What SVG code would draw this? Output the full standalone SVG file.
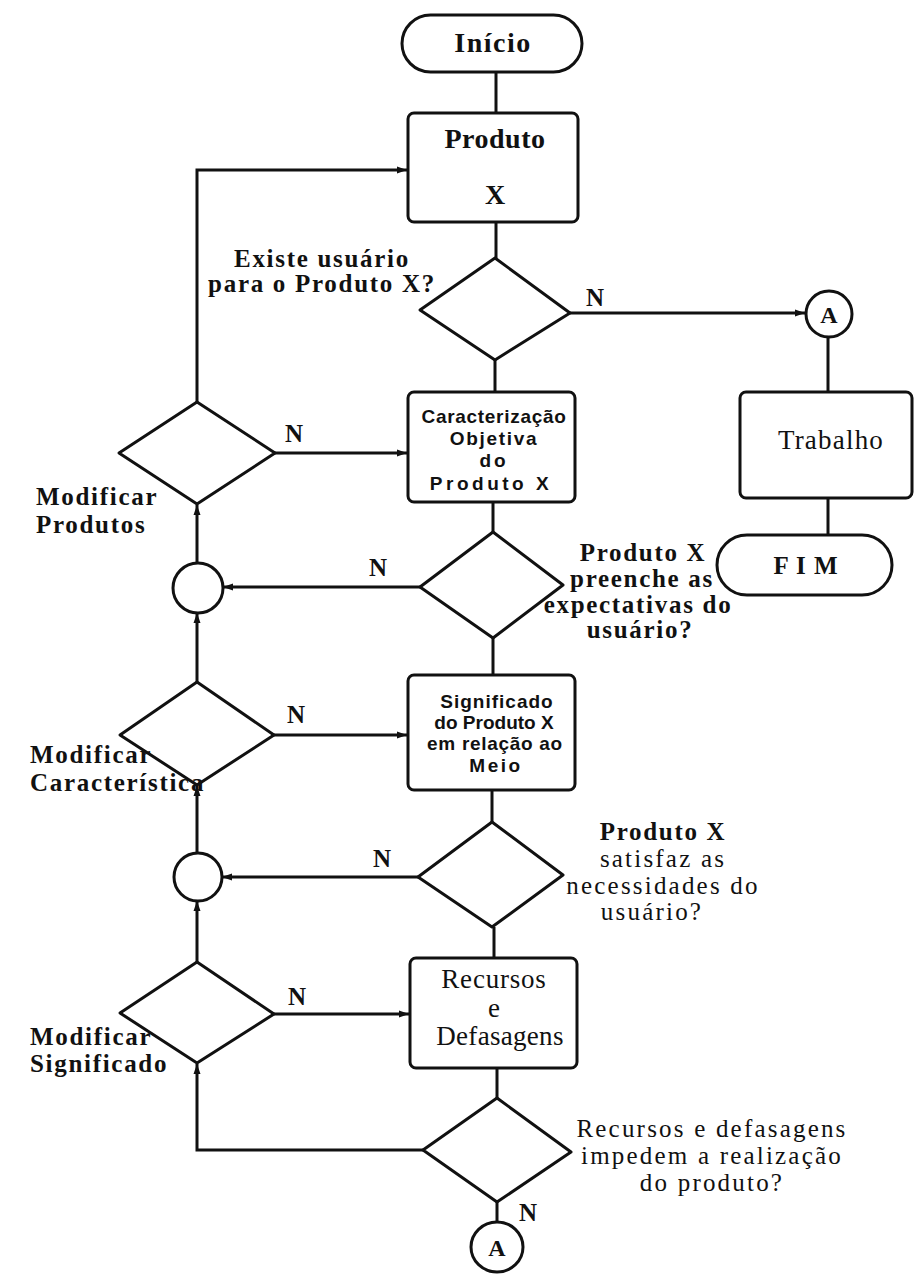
<svg xmlns="http://www.w3.org/2000/svg" width="919" height="1276" viewBox="0 0 919 1276">
  <style>
    .shape { fill: #ffffff; stroke: #111111; stroke-width: 3; stroke-linejoin: round; }
    .link { fill: none; stroke: #111111; stroke-width: 3; }
    .serif { font-family: "Liberation Serif", "Times New Roman", serif; fill: #111111; }
    .b { font-weight: bold; }
    .lbl { font-size: 25px; letter-spacing: 1.7px; }
    .reg { font-size: 25px; letter-spacing: 2.2px; }
    .sans { font-family: "Liberation Sans", Arial, sans-serif; font-weight: bold; font-size: 19px; fill: #111111; }
    .mid { text-anchor: middle; }
  </style>
  <defs>
    <marker id="arrow" markerUnits="userSpaceOnUse" markerWidth="12" markerHeight="10" refX="10" refY="4" orient="auto">
      <path d="M0,0.5 L10,4 L0,7.5 z" fill="#111111"/>
    </marker>
  </defs>

  <!-- connectors -->
  <g id="connectors">
    <path class="link" d="M496,72 V113"/>
    <path class="link" d="M496,222 V258"/>
    <path class="link" d="M495,360 V392"/>
    <path class="link" d="M570,313 H805" marker-end="url(#arrow)"/>
    <path class="link" d="M828,337 V392"/>
    <path class="link" d="M828,498 V535"/>
    <path class="link" d="M493,502 V532"/>
    <path class="link" d="M420,587 H223" marker-end="url(#arrow)"/>
    <path class="link" d="M493,638 V675"/>
    <path class="link" d="M492,790 V822"/>
    <path class="link" d="M418,877 H222" marker-end="url(#arrow)"/>
    <path class="link" d="M494,927 V958"/>
    <path class="link" d="M497,1068 V1098"/>
    <path class="link" d="M423,1150 H197 V1064" marker-end="url(#arrow)"/>
    <path class="link" d="M497,1202 V1222"/>
    <path class="link" d="M197,962 V901" marker-end="url(#arrow)"/>
    <path class="link" d="M197,853 V786" marker-end="url(#arrow)"/>
    <path class="link" d="M197,682 V613" marker-end="url(#arrow)"/>
    <path class="link" d="M197,563 V505" marker-end="url(#arrow)"/>
    <path class="link" d="M197,402 V170 H407" marker-end="url(#arrow)"/>
    <path class="link" d="M275,453 H407" marker-end="url(#arrow)"/>
    <path class="link" d="M274,735 H407" marker-end="url(#arrow)"/>
    <path class="link" d="M274,1014 H409" marker-end="url(#arrow)"/>
  </g>

  <!-- start / end -->
  <g id="inicio">
    <rect class="shape" x="402" y="15" width="180" height="57" rx="28.5"/>
    <text class="serif b mid" x="493" y="52" font-size="28" letter-spacing="1.5">Início</text>
  </g>
  <g id="fim">
    <rect class="shape" x="717" y="535" width="175" height="60" rx="30"/>
    <text class="serif b mid" x="806" y="574" font-size="25" letter-spacing="1">F I M</text>
  </g>

  <!-- process boxes -->
  <g id="produto">
    <rect class="shape" x="408" y="113" width="170" height="109" rx="6"/>
    <text class="serif b mid" x="495" y="148" font-size="28" letter-spacing="0.5">Produto</text>
    <text class="serif b mid" x="495" y="204" font-size="28">X</text>
  </g>
  <g id="trabalho">
    <rect class="shape" x="740" y="392" width="172" height="106" rx="6"/>
    <text class="serif mid" x="831" y="449" font-size="27" letter-spacing="1.2">Trabalho</text>
  </g>
  <g id="caracterizacao">
    <rect class="shape" x="408" y="392" width="167" height="110" rx="6"/>
    <text class="sans mid" x="494" y="423" letter-spacing="0.7">Caracterização</text>
    <text class="sans mid" x="494" y="445" letter-spacing="1.7">Objetiva</text>
    <text class="sans mid" x="494" y="467" letter-spacing="3">do</text>
    <text class="sans mid" x="491" y="490" letter-spacing="3.5">Produto X</text>
  </g>
  <g id="significado">
    <rect class="shape" x="408" y="675" width="167" height="115" rx="6"/>
    <text class="sans mid" x="497" y="708" letter-spacing="1">Significado</text>
    <text class="sans mid" x="494" y="729">do Produto X</text>
    <text class="sans mid" x="495" y="750" letter-spacing="0.7">em relação ao</text>
    <text class="sans mid" x="496" y="772" letter-spacing="2.5">Meio</text>
  </g>
  <g id="recursos">
    <rect class="shape" x="410" y="958" width="167" height="110" rx="6"/>
    <text class="serif mid" x="494" y="988" font-size="27" letter-spacing="0.8">Recursos</text>
    <text class="serif mid" x="494" y="1017" font-size="27">e</text>
    <text class="serif mid" x="500" y="1045" font-size="27" letter-spacing="0.3">Defasagens</text>
  </g>

  <!-- decisions -->
  <g id="decisao-usuario">
    <polygon class="shape" points="495,258 570,313 495,360 420,310"/>
    <text class="serif b lbl mid" x="322" y="267">Existe usuário</text>
    <text class="serif b lbl mid" x="322" y="292">para o Produto X?</text>
    <text class="serif b mid" x="595" y="306" font-size="25">N</text>
  </g>
  <g id="decisao-expectativas">
    <polygon class="shape" points="493,532 563,585 493,638 420,587"/>
    <text class="serif b lbl mid" x="643" y="561" letter-spacing="2.3">Produto X</text>
    <text class="serif b lbl mid" x="642" y="587">preenche as</text>
    <text class="serif b lbl mid" x="638" y="613">expectativas do</text>
    <text class="serif b lbl mid" x="640" y="638">usuário?</text>
    <text class="serif b mid" x="378" y="576" font-size="25">N</text>
  </g>
  <g id="decisao-necessidades">
    <polygon class="shape" points="492,822 563,875 492,927 418,877"/>
    <text class="serif b lbl mid" x="663" y="840" letter-spacing="2.3">Produto X</text>
    <text class="serif reg mid" x="663" y="867">satisfaz as</text>
    <text class="serif reg mid" x="663" y="894">necessidades do</text>
    <text class="serif reg mid" x="652" y="920">usuário?</text>
    <text class="serif b mid" x="382" y="867" font-size="25">N</text>
  </g>
  <g id="decisao-recursos">
    <polygon class="shape" points="497,1098 571,1152 497,1202 423,1150"/>
    <text class="serif reg mid" x="712" y="1137">Recursos e defasagens</text>
    <text class="serif reg mid" x="712" y="1164">impedem a realização</text>
    <text class="serif reg mid" x="712" y="1191">do produto?</text>
    <text class="serif b mid" x="528" y="1221" font-size="25">N</text>
  </g>
  <g id="modificar-produtos">
    <polygon class="shape" points="197,402 275,453 197,504 119,453"/>
    <text class="serif b lbl" x="36" y="505" letter-spacing="1">Modificar</text>
    <text class="serif b lbl" x="36" y="533" letter-spacing="1.5">Produtos</text>
    <text class="serif b mid" x="294" y="442" font-size="25">N</text>
  </g>
  <g id="modificar-caracteristica">
    <polygon class="shape" points="197,682 274,735 197,785 120,735"/>
    <text class="serif b lbl" x="30" y="763" letter-spacing="1">Modificar</text>
    <text class="serif b lbl" x="30" y="791" letter-spacing="0.8">Característica</text>
    <text class="serif b mid" x="296" y="723" font-size="25">N</text>
  </g>
  <g id="modificar-significado">
    <polygon class="shape" points="197,962 274,1014 197,1063 120,1013"/>
    <text class="serif b lbl" x="30" y="1045" letter-spacing="1">Modificar</text>
    <text class="serif b lbl" x="30" y="1072" letter-spacing="1">Significado</text>
    <text class="serif b mid" x="297" y="1005" font-size="25">N</text>
  </g>

  <!-- junctions and connectors A -->
  <g id="juncao-1">
    <circle class="shape" cx="198" cy="588" r="25"/>
  </g>
  <g id="juncao-2">
    <circle class="shape" cx="198" cy="877" r="24"/>
  </g>
  <g id="conector-a-topo">
    <circle class="shape" cx="829" cy="314" r="23"/>
    <text class="serif b mid" x="829" y="323" font-size="24">A</text>
  </g>
  <g id="conector-a-base">
    <ellipse class="shape" cx="497" cy="1247" rx="26" ry="25"/>
    <text class="serif b mid" x="497" y="1256" font-size="24">A</text>
  </g>
</svg>
